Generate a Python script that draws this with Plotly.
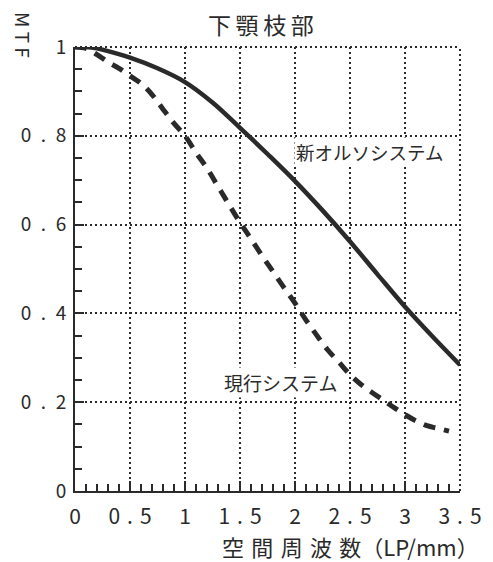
import plotly.graph_objects as go

# Spatial frequency (LP/mm) and MTF values
x_new = [0, 0.1, 0.2, 0.25, 0.5, 0.75, 1.0, 1.25, 1.5, 1.75, 2.0, 2.25, 2.5, 2.75, 3.0, 3.25, 3.5]
mtf_new = [1.0, 1.0, 0.997, 0.994, 0.976, 0.952, 0.921, 0.875, 0.818, 0.759, 0.698, 0.632, 0.562,
           0.488, 0.415, 0.348, 0.284]

x_cur = [0, 0.1, 0.2, 0.3, 0.4, 0.5, 0.6, 0.7, 0.8, 0.9, 1.0, 1.1, 1.2, 1.3, 1.4, 1.5, 1.6, 1.7,
         1.8, 1.9, 2.0, 2.1, 2.2, 2.3, 2.4, 2.5, 2.6, 2.7, 2.8, 2.9, 3.0, 3.1, 3.2, 3.3, 3.4]
mtf_cur = [1.0, 0.997, 0.983, 0.966, 0.952, 0.935, 0.918, 0.893, 0.86, 0.828, 0.80, 0.762, 0.727,
           0.686, 0.645, 0.605, 0.568, 0.53, 0.494, 0.458, 0.423, 0.385, 0.35, 0.317, 0.29, 0.262,
           0.24, 0.222, 0.205, 0.188, 0.172, 0.158, 0.147, 0.141, 0.135]

SX = "\u2004"   # spacing inside x tick labels
SY = "\u2002"   # spacing inside y tick labels
x_ticks = [0, 0.5, 1, 1.5, 2, 2.5, 3, 3.5]
x_ticktext = ["0", f"0{SX}.{SX}5", "1", f"1{SX}.{SX}5", "2", f"2{SX}.{SX}5", "3", f"3{SX}.{SX}5"]
y_ticks = [0, 0.2, 0.4, 0.6, 0.8, 1]
y_ticktext = ["0", f"0{SY}.{SY}2", f"0{SY}.{SY}4", f"0{SY}.{SY}6", f"0{SY}.{SY}8", "1"]

T = "\u2009"
W = "\u2004"
title = f"下{T}顎{T}枝{T}部"
y_title = "M T F"
x_title = f"空{W}間{W}周{W}波{W}数（LP/mm）"
label_new = "新オルソシステム"
label_cur = "現行システム"

FONT = "Noto Sans CJK JP"
INK = "#2a2a2a"
GRID_DASH = "2px,3px"

fig = go.Figure()
fig.add_trace(go.Scatter(x=x_cur, y=mtf_cur, mode="lines",
                         line=dict(color=INK, width=5, dash="12px,9px", shape="spline"),
                         showlegend=False, hoverinfo="skip"))
fig.add_trace(go.Scatter(x=x_new, y=mtf_new, mode="lines",
                         line=dict(color=INK, width=4.5, shape="spline"),
                         showlegend=False, hoverinfo="skip"))

# the page body adds an 8px margin, so the figure is sized to fit inside the window
fig.update_layout(
    width=485, height=554,
    margin=dict(l=67, r=33, t=39, b=71),
    paper_bgcolor="white", plot_bgcolor="white",
    font=dict(family=FONT, color=INK),
    showlegend=False,
)
fig.update_xaxes(
    range=[0, 3.5], tickvals=x_ticks, ticktext=x_ticktext, automargin=False,
    showline=True, linecolor=INK, linewidth=2,
    ticks="inside", ticklen=10, tickwidth=1.5, tickcolor=INK,
    tickfont=dict(size=21, family=FONT, color=INK), ticklabelstandoff=6,
    showgrid=True, gridcolor=INK, gridwidth=2, griddash=GRID_DASH,
    zeroline=False,
    minor=dict(dtick=0.1, ticks="inside", ticklen=7, tickwidth=1.5, tickcolor=INK, showgrid=False),
)
fig.update_yaxes(
    range=[0, 1], tickvals=y_ticks, ticktext=y_ticktext, automargin=False,
    showline=True, linecolor=INK, linewidth=2,
    ticks="inside", ticklen=9, tickwidth=1.5, tickcolor=INK,
    tickfont=dict(size=19, family=FONT, color=INK), ticklabelstandoff=3,
    showgrid=True, gridcolor=INK, gridwidth=2, griddash=GRID_DASH,
    zeroline=False,
    minor=dict(dtick=0.05, ticks="inside", ticklen=7, tickwidth=1.5, tickcolor=INK, showgrid=False),
)

# dotted frame on the top and right edges (continuation of the grid)
fig.add_shape(type="line", xref="x domain", yref="y domain", x0=0, x1=1, y0=1, y1=1,
              line=dict(color=INK, width=2, dash=GRID_DASH), layer="below")
fig.add_shape(type="line", xref="x domain", yref="y domain", x0=1, x1=1, y0=0, y1=1,
              line=dict(color=INK, width=2, dash=GRID_DASH), layer="below")

fig.add_annotation(text=title, xref="paper", yref="paper", x=0.483, y=1, yshift=23, showarrow=False,
                   xanchor="center", yanchor="middle", font=dict(size=23, family=FONT, color=INK))
fig.add_annotation(text=y_title, xref="paper", yref="paper", x=0, xshift=-51, y=1, yshift=12, showarrow=False,
                   xanchor="center", yanchor="middle",
                   textangle=90, font=dict(size=19, family=FONT, color=INK))
fig.add_annotation(text=x_title, xref="paper", yref="paper", x=1, xshift=21, y=0, yshift=-55, showarrow=False,
                   xanchor="right", yanchor="middle", font=dict(size=22, family=FONT, color=INK))
fig.add_annotation(text=label_new, x=2.675, y=0.759, yshift=2, showarrow=False, bgcolor="white",
                   font=dict(size=18.5, family=FONT, color=INK))
fig.add_annotation(text=label_cur, x=1.865, y=0.242, yshift=1, showarrow=False, bgcolor="white",
                   font=dict(size=19, family=FONT, color=INK))

fig.write_html("out.html")
